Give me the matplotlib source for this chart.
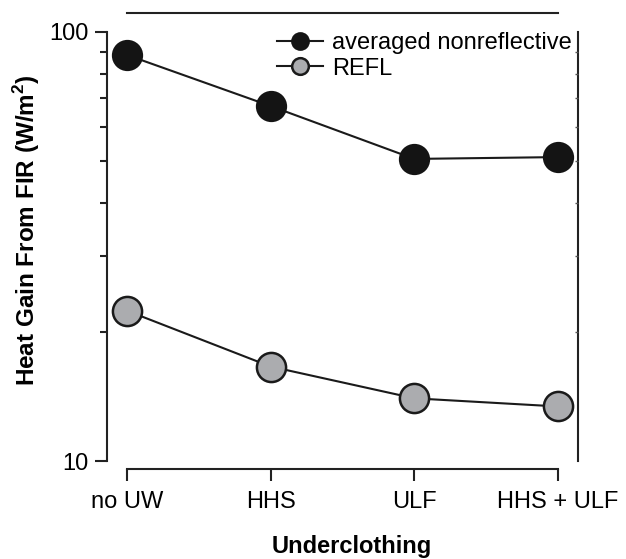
import matplotlib
matplotlib.use('Agg')
import matplotlib.pyplot as plt
from matplotlib.ticker import FixedLocator, NullFormatter, FixedFormatter

plt.rcParams['font.family'] = ['Liberation Sans', 'DejaVu Sans']
plt.rcParams['mathtext.fontset'] = 'custom'
plt.rcParams['mathtext.rm'] = 'Liberation Sans:bold'
plt.rcParams['mathtext.bf'] = 'Liberation Sans:bold'

categories = ['no UW', 'HHS', 'ULF', 'HHS + ULF']
nonreflective = [88.4, 67.2, 50.6, 51.1]
refl = [22.4, 16.6, 14.0, 13.4]
x = list(range(len(categories)))

fig = plt.figure(figsize=(6.26, 5.59), dpi=100)
ax = fig.add_axes([107 / 626, 1 - 461 / 559, 471 / 626, 429 / 559])

ax.plot(x, nonreflective, color='#1a1a1a', linewidth=1.5, marker='o',
        markersize=21, markerfacecolor='#141414', markeredgecolor='#141414',
        markeredgewidth=1.5, label='averaged nonreflective', zorder=3)
ax.plot(x, refl, color='#1a1a1a', linewidth=1.5, marker='o',
        markersize=21, markerfacecolor='#abacaf', markeredgecolor='#1a1a1a',
        markeredgewidth=1.8, label='REFL', zorder=3)

ax.set_yscale('log')
ax.set_ylim(10, 100)
ax.set_xlim(-20 / 143.67, 451 / 143.67)

# spines in the detached style of the original
for s in ax.spines.values():
    s.set_linewidth(1.5)
    s.set_color('#222222')
ax.spines['left'].set_bounds(10, 100)
ax.spines['right'].set_bounds(10, 100)
ax.spines['bottom'].set_bounds(0, 3)
ax.spines['bottom'].set_position(('outward', 5.8))
ax.spines['top'].set_bounds(0, 3)
ax.spines['top'].set_position(('outward', 13.7))

ax.set_xticks(x)
ax.set_xticklabels(categories)
ax.yaxis.set_major_locator(FixedLocator([10, 100]))
ax.yaxis.set_major_formatter(FixedFormatter(['10', '100']))
ax.yaxis.set_minor_locator(FixedLocator([20, 30, 40, 50, 60, 70, 80, 90]))
ax.yaxis.set_minor_formatter(NullFormatter())

ax.tick_params(axis='x', which='both', direction='out', length=8.5, width=1.5,
               labelsize=17, pad=7, top=False, color='#222222')
ax.tick_params(axis='y', which='major', direction='out', length=8.5, width=1.5,
               labelsize=17, pad=5, right=False, color='#222222')
ax.tick_params(axis='y', which='minor', direction='out', length=5, width=1.5,
               right=False, color='#222222')

# faint inner minor ticks on the right spine
ax2 = ax.twinx()
ax2.set_yscale('log')
ax2.set_ylim(10, 100)
for s in ax2.spines.values():
    s.set_visible(False)
ax2.yaxis.set_major_locator(FixedLocator([]))
ax2.yaxis.set_minor_locator(FixedLocator([20, 30, 40, 50, 60, 70, 80, 90]))
ax2.yaxis.set_minor_formatter(NullFormatter())
ax2.tick_params(axis='y', which='minor', direction='in', length=2, width=1,
                color='#555555')

fig.text(27 / 626, 1 - 230 / 559, r'Heat Gain From FIR (W/m$^{2}$)',
         rotation=90, ha='center', va='center', fontsize=17.5, fontweight='bold')
fig.text(352 / 626, 1 - 553 / 559, 'Underclothing', ha='center', va='baseline',
         fontsize=17, fontweight='bold')

leg = ax.legend(loc='upper left', bbox_to_anchor=(277 / 626, 1 - 32 / 559),
                bbox_transform=fig.transFigure, frameon=False, fontsize=17,
                markerscale=12 / 21, handlelength=1.95, handletextpad=0.4,
                labelspacing=0.15, borderpad=0, borderaxespad=0)

fig.savefig('out.png', dpi=100)
